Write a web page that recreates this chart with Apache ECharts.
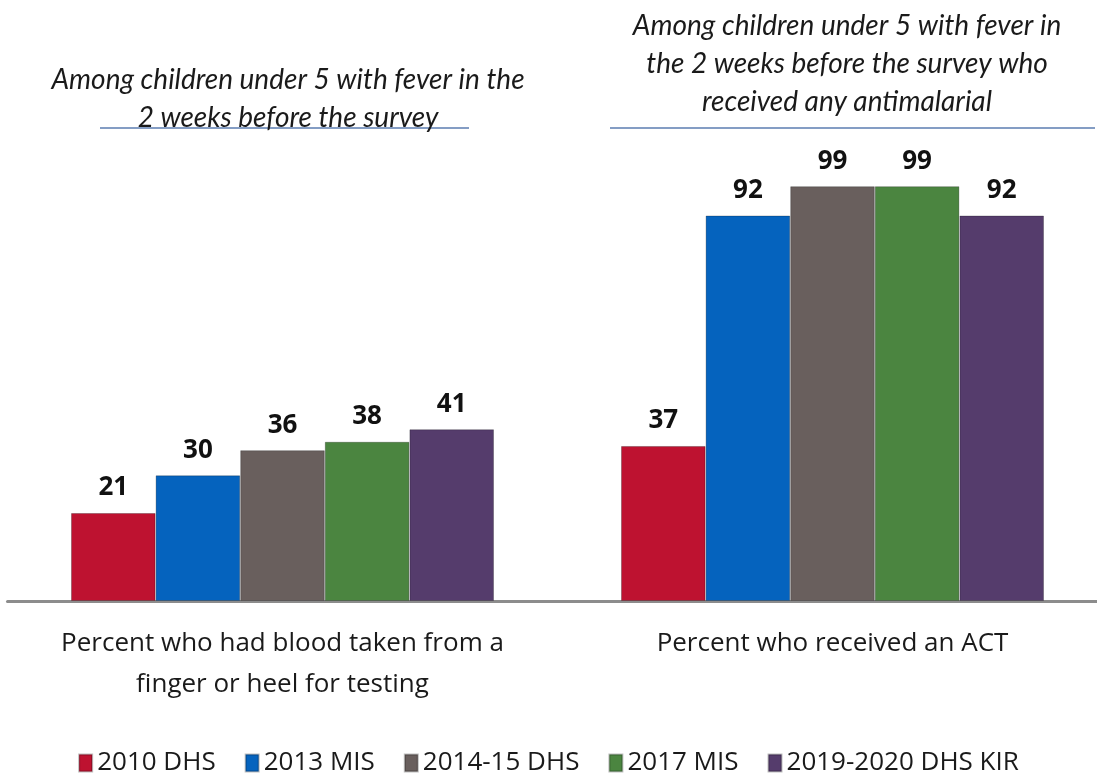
<!DOCTYPE html>
<html>
<head>
<meta charset="utf-8">
<script src="https://cdn.jsdelivr.net/npm/echarts@6/dist/echarts.min.js"></script>
<style>
  html, body { margin: 0; padding: 0; background: #fff; }
  #chart { width: 1097px; height: 779px; }
</style>
</head>
<body>
<div id="chart"></div>
<script>
// data
const categories = [
  'Percent who had blood taken from a\nfinger or heel for testing',
  'Percent who received an ACT'
];
const surveys = ['2010 DHS', '2013 MIS', '2014-15 DHS', '2017 MIS', '2019-2020 DHS KIR'];
const values2010 = [21, 37];
const values2013 = [30, 92];
const values2014 = [36, 99];
const values2017 = [38, 99];
const values2019 = [41, 92];
const colors = ['#BE1230', '#0563BE', '#695F5D', '#4B8540', '#553C6C'];

const seriesData = [values2010, values2013, values2014, values2017, values2019];

const chart = echarts.init(document.getElementById('chart'));

const titleFont = {
  fontFamily: 'Lato', fontStyle: 'italic', fontWeight: 'normal',
  fontSize: 28, color: '#1a1a1a', lineHeight: 38, align: 'center'
};

const option = {
  animation: false,
  color: colors,
  grid: { left: 7.5, width: 1100, top: 182, bottom: 178, outerBoundsMode: 'none', containLabel: false },
  title: [
    {
      text: 'Among children under 5 with fever in the\n2 weeks before the survey',
      left: 283, top: 56, textAlign: 'center',
      textStyle: titleFont
    },
    {
      text: 'Among children under 5 with fever in\nthe 2 weeks before the survey who\nreceived any antimalarial',
      left: 842, top: 2, textAlign: 'center',
      textStyle: titleFont
    }
  ],
  graphic: [
    { type: 'line', shape: { x1: 100, y1: 128, x2: 469, y2: 128 }, style: { stroke: '#5B7DB1', lineWidth: 1.5 } },
    { type: 'line', shape: { x1: 610, y1: 128, x2: 1095, y2: 128 }, style: { stroke: '#5B7DB1', lineWidth: 1.5 } }
  ],
  legend: {
    top: 745,
    left: 'center',
    itemWidth: 13,
    itemHeight: 17,
    itemGap: 29,
    icon: 'rect',
    textStyle: { fontFamily: 'Open Sans', fontSize: 26, color: '#1a1a1a', padding: [0, 0, 0, 0] },
    data: surveys
  },
  xAxis: {
    type: 'category',
    data: categories,
    axisLine: { lineStyle: { color: '#8c8c8c', width: 3 } },
    axisTick: { show: false },
    axisLabel: {
      interval: 0,
      hideOverlap: false,
      margin: 22,
      fontFamily: 'Open Sans',
      fontSize: 26,
      lineHeight: 41,
      color: '#1a1a1a'
    }
  },
  yAxis: { type: 'value', min: 0, max: 100, show: false, splitLine: { show: false } },
  series: surveys.map((name, i) => ({
    name,
    type: 'bar',
    data: seriesData[i],
    barWidth: 84.6,
    barGap: '0%',
    itemStyle: { color: colors[i], borderColor: 'rgba(0,0,0,0.25)', borderWidth: 1 },
    label: {
      show: true,
      position: 'top',
      distance: 12,
      fontFamily: 'Open Sans',
      fontWeight: 'bold',
      fontSize: 26,
      color: '#111'
    }
  }))
};

chart.setOption(option);
</script>
</body>
</html>
